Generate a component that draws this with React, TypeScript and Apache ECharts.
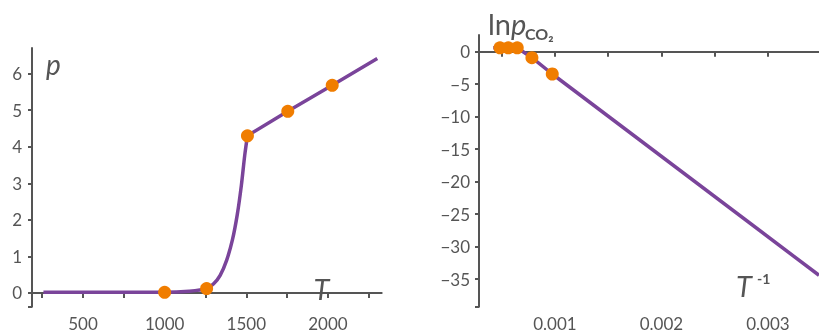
import React, { useEffect, useRef } from "react";
import * as echarts from "echarts";

// Left chart: pressure p vs temperature T
const T_RISE = [258, 600, 1000, 1150, 1257, 1300, 1340, 1380, 1415, 1445, 1470, 1490, 1507];
const P_RISE = [0.02, 0.02, 0.02, 0.05, 0.12, 0.25, 0.48, 0.9, 1.45, 2.15, 2.95, 3.75, 4.3];
const T_LIN = [1507, 1754, 2026, 2302];
const P_LIN = [4.3, 4.97, 5.68, 6.41];
const T_PTS = [1000, 1257, 1507, 1754, 2026];
const P_PTS = [0.02, 0.12, 4.3, 4.97, 5.68];
const LEFT_X_TICKS = [188, 250, 500, 750, 1000, 1250, 1500, 1750, 2000, 2250];
const LEFT_X_LABELS = [500, 1000, 1500, 2000];
const LEFT_Y_TICKS = [-0.375, 0, 1, 2, 3, 4, 5, 6];
const LEFT_Y_LABELS = [0, 1, 2, 3, 4, 5, 6];

// Right chart: ln p vs 1/T
const INV_T_LINE = [0.000421, 0.000646, 0.000784, 0.000975, 0.00348];
const LNP_LINE = [0.6, 0.6, -0.92, -3.43, -34.4];
const INV_T_PTS = [0.000484, 0.000562, 0.000646, 0.000784, 0.000975];
const LNP_PTS = [0.6, 0.6, 0.6, -0.92, -3.43];
const RIGHT_X_TICKS = [0.000287, 0.0005, 0.001, 0.0015, 0.002, 0.0025, 0.003];
const RIGHT_X_LABELS = [0.001, 0.002, 0.003];
const RIGHT_Y_TICKS = [-39.23, -35, -30, -25, -20, -15, -10, -5, 0];
const RIGHT_Y_LABELS = [-35, -30, -25, -20, -15, -10, -5, 0];

const PURPLE = "#7A449A";
const ORANGE = "#F07D00";
const AXIS = "#555555";
const FONT = "Lato";

const zip = (a: number[], b: number[]) => a.map((v, i) => [v, b[i]]);

export default function App() {
  const ref = useRef<HTMLDivElement>(null);
  useEffect(() => {
    if (!ref.current) return;
    const chart = echarts.init(ref.current, null, { renderer: "svg" });
    const label = (labels: number[], margin: number) => ({
      customValues: labels,
      color: AXIS,
      fontFamily: FONT,
      fontSize: 17,
      margin,
      formatter: (v: number) => String(v).replace("-", "\u2212"),
    });
    const axis = (ticks: number[], labels: number[], tickLen: number, margin: number) => ({
      type: "value" as const,
      axisLine: { show: true, lineStyle: { color: AXIS, width: 2 } },
      axisTick: { show: true, customValues: ticks, length: tickLen, lineStyle: { color: AXIS, width: 2 } },
      axisLabel: label(labels, margin),
      splitLine: { show: false },
    });
    chart.setOption({
      animation: false,
      grid: [
        { left: 32, right: 437.3, top: 48, bottom: 26.3 },
        { left: 479, right: 0, top: 35, bottom: 26.3 },
      ],
      xAxis: [
        { ...axis(LEFT_X_TICKS, LEFT_X_LABELS, 5, 8), gridIndex: 0, min: 188, max: 2329 },
        { ...axis(RIGHT_X_TICKS, RIGHT_X_LABELS, 5, 8), gridIndex: 1, min: 0.000287, max: 0.00348 },
      ],
      yAxis: [
        { ...axis(LEFT_Y_TICKS, LEFT_Y_LABELS, 4, 10), gridIndex: 0, min: -0.375, max: 6.7 },
        { ...axis(RIGHT_Y_TICKS, RIGHT_Y_LABELS, 4, 9), gridIndex: 1, min: -39.23, max: 2.57 },
      ],
      series: [
        { type: "line", xAxisIndex: 0, yAxisIndex: 0, data: zip(T_RISE, P_RISE), smooth: 0.3,
          showSymbol: false, lineStyle: { color: PURPLE, width: 3.5 } },
        { type: "line", xAxisIndex: 0, yAxisIndex: 0, data: zip(T_LIN, P_LIN),
          showSymbol: false, lineStyle: { color: PURPLE, width: 3.5 } },
        { type: "scatter", xAxisIndex: 0, yAxisIndex: 0, data: zip(T_PTS, P_PTS), symbolSize: 13,
          itemStyle: { color: ORANGE, opacity: 1 }, z: 5 },
        { type: "line", xAxisIndex: 1, yAxisIndex: 1, data: zip(INV_T_LINE, LNP_LINE),
          showSymbol: false, lineStyle: { color: PURPLE, width: 3.5 } },
        { type: "scatter", xAxisIndex: 1, yAxisIndex: 1, data: zip(INV_T_PTS, LNP_PTS), symbolSize: 13,
          itemStyle: { color: ORANGE, opacity: 1 }, z: 5 },
      ],
      graphic: [
        { type: "text", x: 46, y: 64, style: { text: "p", font: `italic 28px ${FONT}`, fill: AXIS, textAlign: "left", textVerticalAlign: "middle" } },
        { type: "text", x: 321.5, y: 288.5, style: { text: "T", font: `italic 29px ${FONT}`, fill: AXIS, textAlign: "center", textVerticalAlign: "middle" } },
        { type: "text", x: 488, y: 23.5, style: {
          text: "{a|ln}{b|p}", fill: AXIS, textAlign: "left", textVerticalAlign: "middle",
          rich: { a: { fontFamily: FONT, fontSize: 29, fontStyle: "normal", fill: AXIS }, b: { fontFamily: FONT, fontSize: 29, fontStyle: "italic", fill: AXIS } } } },
        { type: "text", x: 525, y: 33, style: { text: "CO\u2082", font: `bold 16px ${FONT}`, fill: AXIS, textAlign: "left", textVerticalAlign: "middle" } },
        { type: "text", x: 744, y: 285, style: { text: "T", font: `italic 29px ${FONT}`, fill: AXIS, textAlign: "center", textVerticalAlign: "middle" } },
        { type: "text", x: 757, y: 278, style: { text: "-1", font: `bold 14px ${FONT}`, fill: AXIS, textAlign: "left", textVerticalAlign: "middle" } },
      ],
    });
    return () => chart.dispose();
  }, []);
  return <div ref={ref} style={{ position: "fixed", left: 0, top: 0, width: 819, height: 333 }} />;
}
